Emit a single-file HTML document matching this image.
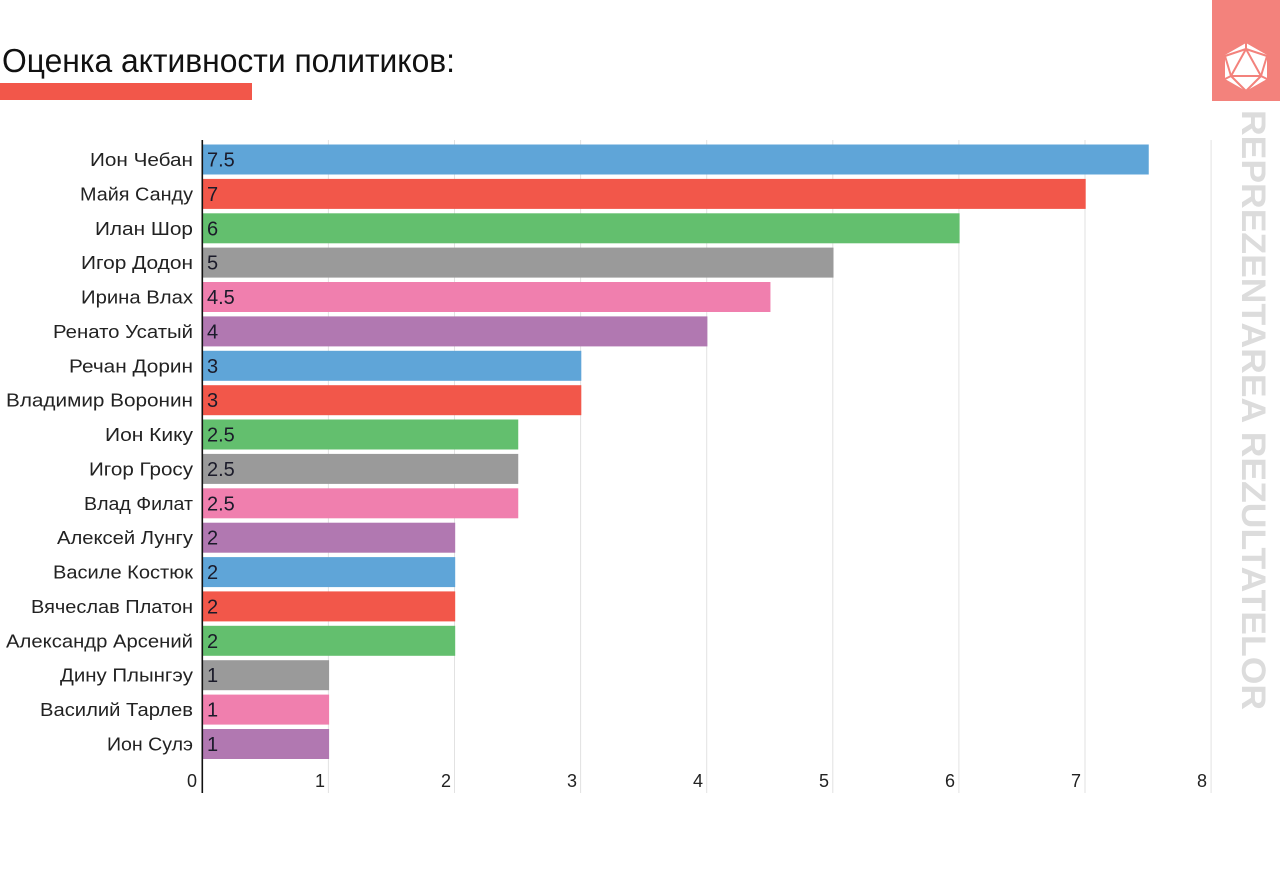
<!DOCTYPE html>
<html>
<head>
<meta charset="utf-8">
<style>
html,body{margin:0;padding:0;background:#fff;}
body{width:1280px;height:885px;overflow:hidden;}
svg{display:block;}
text{font-family:"Liberation Sans","DejaVu Sans",sans-serif;}
</style>
</head>
<body>
<svg width="1280" height="885" viewBox="0 0 1280 885" xmlns="http://www.w3.org/2000/svg">
<rect width="1280" height="885" fill="#fff"/>
<!-- title -->
<text x="2" y="72" font-size="33" fill="#111" textLength="453" lengthAdjust="spacingAndGlyphs">Оценка активности политиков:</text>
<rect x="0" y="83" width="252" height="17" fill="#f2574a"/>

<!-- logo -->
<rect x="1212" y="0" width="68" height="101" fill="#f3827c"/>
<polygon points="1246,43 1267,55 1267,79 1246,91 1225,79 1225,55" fill="#fff"/>
<g stroke="#f3827c" stroke-width="2" fill="none" stroke-linejoin="round">
<polygon points="1246,49 1261,76 1231,76"/>
<line x1="1246" y1="49" x2="1246" y2="43"/>
<line x1="1246" y1="49" x2="1225" y2="56"/>
<line x1="1246" y1="49" x2="1267" y2="56"/>
<line x1="1231" y1="76" x2="1225" y2="56"/>
<line x1="1231" y1="76" x2="1225" y2="79"/>
<line x1="1231" y1="76" x2="1246" y2="91"/>
<line x1="1261" y1="76" x2="1267" y2="56"/>
<line x1="1261" y1="76" x2="1267" y2="79"/>
<line x1="1261" y1="76" x2="1246" y2="91"/>
</g>

<!-- vertical text -->
<text transform="translate(1242,110) rotate(90)" font-size="34" font-weight="bold" fill="#dcdcdc" textLength="600" lengthAdjust="spacingAndGlyphs">REPREZENTAREA REZULTATELOR</text>

<!-- gridlines -->
<g stroke="#e2e2e2" stroke-width="1">
<line x1="328.4" y1="140" x2="328.4" y2="793"/>
<line x1="454.5" y1="140" x2="454.5" y2="793"/>
<line x1="580.6" y1="140" x2="580.6" y2="793"/>
<line x1="706.7" y1="140" x2="706.7" y2="793"/>
<line x1="832.8" y1="140" x2="832.8" y2="793"/>
<line x1="958.9" y1="140" x2="958.9" y2="793"/>
<line x1="1085" y1="140" x2="1085" y2="793"/>
<line x1="1211.1" y1="140" x2="1211.1" y2="793"/>
</g>

<!-- bars -->
<g>
<rect x="203" y="144.5" width="945.75" height="30" fill="#5fa5d8"/>
<rect x="203" y="178.9" width="882.7" height="30" fill="#f2574a"/>
<rect x="203" y="213.3" width="756.6" height="30" fill="#63bf6e"/>
<rect x="203" y="247.6" width="630.5" height="30" fill="#9a9a9a"/>
<rect x="203" y="282.0" width="567.45" height="30" fill="#f07fae"/>
<rect x="203" y="316.4" width="504.4" height="30" fill="#b178b1"/>
<rect x="203" y="350.8" width="378.3" height="30" fill="#5fa5d8"/>
<rect x="203" y="385.2" width="378.3" height="30" fill="#f2574a"/>
<rect x="203" y="419.5" width="315.25" height="30" fill="#63bf6e"/>
<rect x="203" y="453.9" width="315.25" height="30" fill="#9a9a9a"/>
<rect x="203" y="488.3" width="315.25" height="30" fill="#f07fae"/>
<rect x="203" y="522.7" width="252.2" height="30" fill="#b178b1"/>
<rect x="203" y="557.1" width="252.2" height="30" fill="#5fa5d8"/>
<rect x="203" y="591.4" width="252.2" height="30" fill="#f2574a"/>
<rect x="203" y="625.8" width="252.2" height="30" fill="#63bf6e"/>
<rect x="203" y="660.2" width="126.1" height="30" fill="#9a9a9a"/>
<rect x="203" y="694.6" width="126.1" height="30" fill="#f07fae"/>
<rect x="203" y="729.0" width="126.1" height="30" fill="#b178b1"/>
</g>

<!-- axis -->
<line x1="202.3" y1="140" x2="202.3" y2="793" stroke="#111" stroke-width="1.6"/>

<!-- value labels -->
<g font-size="20" fill="#1b1b2a">
<text x="207" y="166.5">7.5</text>
<text x="207" y="200.9">7</text>
<text x="207" y="235.3">6</text>
<text x="207" y="269.6">5</text>
<text x="207" y="304.0">4.5</text>
<text x="207" y="338.4">4</text>
<text x="207" y="372.8">3</text>
<text x="207" y="407.2">3</text>
<text x="207" y="441.5">2.5</text>
<text x="207" y="475.9">2.5</text>
<text x="207" y="510.3">2.5</text>
<text x="207" y="544.7">2</text>
<text x="207" y="579.1">2</text>
<text x="207" y="613.4">2</text>
<text x="207" y="647.8">2</text>
<text x="207" y="682.2">1</text>
<text x="207" y="716.6">1</text>
<text x="207" y="751.0">1</text>
</g>

<!-- category labels -->
<g font-size="18" fill="#222" text-anchor="end">
<text x="193" y="166" textLength="103" lengthAdjust="spacingAndGlyphs">Ион Чебан</text>
<text x="193" y="200.4" textLength="113" lengthAdjust="spacingAndGlyphs">Майя Санду</text>
<text x="193" y="234.8" textLength="98" lengthAdjust="spacingAndGlyphs">Илан Шор</text>
<text x="193" y="269.1" textLength="112" lengthAdjust="spacingAndGlyphs">Игор Додон</text>
<text x="193" y="303.5" textLength="112" lengthAdjust="spacingAndGlyphs">Ирина Влах</text>
<text x="193" y="337.9" textLength="140" lengthAdjust="spacingAndGlyphs">Ренато Усатый</text>
<text x="193" y="372.3" textLength="124" lengthAdjust="spacingAndGlyphs">Речан Дорин</text>
<text x="193" y="406.7" textLength="187" lengthAdjust="spacingAndGlyphs">Владимир Воронин</text>
<text x="193" y="441.0" textLength="88" lengthAdjust="spacingAndGlyphs">Ион Кику</text>
<text x="193" y="475.4" textLength="104" lengthAdjust="spacingAndGlyphs">Игор Гросу</text>
<text x="193" y="509.8" textLength="109" lengthAdjust="spacingAndGlyphs">Влад Филат</text>
<text x="193" y="544.2" textLength="136" lengthAdjust="spacingAndGlyphs">Алексей Лунгу</text>
<text x="193" y="578.6" textLength="140" lengthAdjust="spacingAndGlyphs">Василе Костюк</text>
<text x="193" y="612.9" textLength="162" lengthAdjust="spacingAndGlyphs">Вячеслав Платон</text>
<text x="193" y="647.3" textLength="187" lengthAdjust="spacingAndGlyphs">Александр Арсений</text>
<text x="193" y="681.7" textLength="133" lengthAdjust="spacingAndGlyphs">Дину Плынгэу</text>
<text x="193" y="716.1" textLength="153" lengthAdjust="spacingAndGlyphs">Василий Тарлев</text>
<text x="193" y="750.5" textLength="86" lengthAdjust="spacingAndGlyphs">Ион Сулэ</text>
</g>

<!-- tick labels -->
<g font-size="18" fill="#222" text-anchor="end">
<text x="197" y="787">0</text>
<text x="325" y="787">1</text>
<text x="451" y="787">2</text>
<text x="577" y="787">3</text>
<text x="703" y="787">4</text>
<text x="829" y="787">5</text>
<text x="955" y="787">6</text>
<text x="1081" y="787">7</text>
<text x="1207" y="787">8</text>
</g>
</svg>
</body>
</html>
